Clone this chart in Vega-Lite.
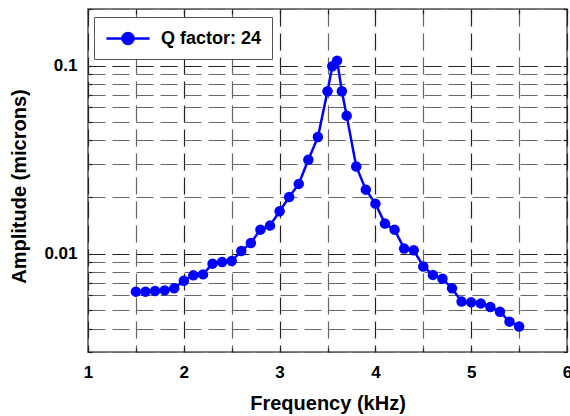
{
  "$schema": "https://vega.github.io/schema/vega-lite/v6.json",
  "width": 479,
  "height": 343,
  "autosize": "none",
  "padding": {"left": 88, "top": 9, "right": 3, "bottom": 64},
  "background": "white",
  "config": {
    "font": "Liberation Sans",
    "view": {"stroke": "#555", "strokeWidth": 1.5},
    "axis": {
      "domain": false,
      "labelFont": "Liberation Sans",
      "labelFontWeight": "bold",
      "labelFontSize": 17,
      "labelColor": "black",
      "titleFont": "Liberation Sans",
      "titleFontWeight": "bold",
      "titleFontSize": 20,
      "titleColor": "black",
      "gridDash": [17, 7],
      "gridWidth": 1.2,
      "tickColor": "#222",
      "tickWidth": 1.2
    }
  },
  "data": {
    "values": [
      {"freq": 1.5, "amp": 0.00628, "series": "Q factor: 24"},
      {"freq": 1.6, "amp": 0.00628, "series": "Q factor: 24"},
      {"freq": 1.7, "amp": 0.00633, "series": "Q factor: 24"},
      {"freq": 1.8, "amp": 0.00638, "series": "Q factor: 24"},
      {"freq": 1.9, "amp": 0.00654, "series": "Q factor: 24"},
      {"freq": 2.0, "amp": 0.00718, "series": "Q factor: 24"},
      {"freq": 2.1, "amp": 0.00767, "series": "Q factor: 24"},
      {"freq": 2.2, "amp": 0.00776, "series": "Q factor: 24"},
      {"freq": 2.3, "amp": 0.00885, "series": "Q factor: 24"},
      {"freq": 2.4, "amp": 0.00903, "series": "Q factor: 24"},
      {"freq": 2.5, "amp": 0.00914, "series": "Q factor: 24"},
      {"freq": 2.6, "amp": 0.01033, "series": "Q factor: 24"},
      {"freq": 2.7, "amp": 0.0114, "series": "Q factor: 24"},
      {"freq": 2.8, "amp": 0.01342, "series": "Q factor: 24"},
      {"freq": 2.9, "amp": 0.0141, "series": "Q factor: 24"},
      {"freq": 3.0, "amp": 0.0168, "series": "Q factor: 24"},
      {"freq": 3.1, "amp": 0.0200, "series": "Q factor: 24"},
      {"freq": 3.2, "amp": 0.0235, "series": "Q factor: 24"},
      {"freq": 3.3, "amp": 0.0316, "series": "Q factor: 24"},
      {"freq": 3.4, "amp": 0.0417, "series": "Q factor: 24"},
      {"freq": 3.5, "amp": 0.0730, "series": "Q factor: 24"},
      {"freq": 3.55, "amp": 0.0992, "series": "Q factor: 24"},
      {"freq": 3.6, "amp": 0.1063, "series": "Q factor: 24"},
      {"freq": 3.65, "amp": 0.0730, "series": "Q factor: 24"},
      {"freq": 3.7, "amp": 0.0542, "series": "Q factor: 24"},
      {"freq": 3.8, "amp": 0.0291, "series": "Q factor: 24"},
      {"freq": 3.9, "amp": 0.0219, "series": "Q factor: 24"},
      {"freq": 4.0, "amp": 0.01845, "series": "Q factor: 24"},
      {"freq": 4.1, "amp": 0.01445, "series": "Q factor: 24"},
      {"freq": 4.2, "amp": 0.01342, "series": "Q factor: 24"},
      {"freq": 4.3, "amp": 0.01064, "series": "Q factor: 24"},
      {"freq": 4.4, "amp": 0.01042, "series": "Q factor: 24"},
      {"freq": 4.5, "amp": 0.00855, "series": "Q factor: 24"},
      {"freq": 4.6, "amp": 0.00771, "series": "Q factor: 24"},
      {"freq": 4.7, "amp": 0.00736, "series": "Q factor: 24"},
      {"freq": 4.8, "amp": 0.00654, "series": "Q factor: 24"},
      {"freq": 4.9, "amp": 0.00556, "series": "Q factor: 24"},
      {"freq": 5.0, "amp": 0.00551, "series": "Q factor: 24"},
      {"freq": 5.1, "amp": 0.00544, "series": "Q factor: 24"},
      {"freq": 5.2, "amp": 0.0052, "series": "Q factor: 24"},
      {"freq": 5.3, "amp": 0.00491, "series": "Q factor: 24"},
      {"freq": 5.4, "amp": 0.00435, "series": "Q factor: 24"},
      {"freq": 5.5, "amp": 0.0041, "series": "Q factor: 24"}
    ]
  },
  "layer": [
    {
      "mark": {"type": "line", "strokeWidth": 2.5},
      "encoding": {
        "x": {
          "field": "freq",
          "type": "quantitative",
          "scale": {"domain": [1, 6], "nice": false, "zero": false},
          "axis": {
            "orient": "bottom",
            "title": "Frequency (kHz)",
            "values": [1, 1.5, 2, 2.5, 3, 3.5, 4, 4.5, 5, 5.5, 6],
            "labelExpr": "datum.value % 1 === 0 ? format(datum.value, 'd') : ''",
            "grid": true,
            "gridColor": {"condition": {"test": "datum.value % 1 === 0", "value": "#222"}, "value": "#666"},
            "ticks": true,
            "tickSize": -4,
            "labelPadding": 29,
            "labelBaseline": "alphabetic",
            "labelFlush": false,
            "titleBaseline": "alphabetic",
            "titleY": 57
          }
        },
        "y": {
          "field": "amp",
          "type": "quantitative",
          "scale": {"type": "log", "domain": [0.003, 0.2], "nice": false},
          "axis": {
            "orient": "left",
            "title": "Amplitude (microns)",
            "values": [0.003, 0.004, 0.005, 0.006, 0.007, 0.008, 0.009, 0.01, 0.02, 0.03, 0.04, 0.05, 0.06, 0.07, 0.08, 0.09, 0.1, 0.2],
            "labelExpr": "datum.value == 0.01 ? '0.01' : (datum.value == 0.1 ? '0.1' : '')",
            "grid": true,
            "gridColor": {"condition": {"test": "datum.value == 0.01 || datum.value == 0.1", "value": "#222"}, "value": "#666"},
            "ticks": true,
            "tickSize": -4,
            "labelPadding": 15,
            "labelFlush": false,
            "titleBaseline": "alphabetic",
            "titleX": -63,
            "titleY": 177
          }
        },
        "color": {
          "field": "series",
          "type": "nominal",
          "scale": {"range": ["#0000ff"]},
          "legend": {
            "title": null,
            "orient": "none",
            "legendX": 6,
            "legendY": 8,
            "padding": 10,
            "strokeColor": "#555",
            "fillColor": "white",
            "cornerRadius": 0,
            "symbolType": "M-0.9,0L3.4,0M0.7,0A0.55,0.55,0,1,0,1.8,0A0.55,0.55,0,1,0,0.7,0Z",
            "symbolSize": 400,
            "symbolStrokeWidth": 2.5,
            "symbolFillColor": "#0000ff",
            "symbolStrokeColor": "#0000ff",
            "labelOffset": 34,
            "labelFont": "Liberation Sans",
            "labelFontWeight": "bold",
            "labelFontSize": 18,
            "labelColor": "black",
            "labelLimit": 300
          }
        }
      }
    },
    {
      "mark": {"type": "point", "filled": true, "size": 110, "opacity": 1, "color": "#0000ff"},
      "encoding": {
        "x": {
          "field": "freq",
          "type": "quantitative",
          "axis": {
            "orient": "top",
            "title": null,
            "values": [1, 1.5, 2, 2.5, 3, 3.5, 4, 4.5, 5, 5.5, 6],
            "labels": false,
            "grid": false,
            "ticks": true,
            "tickSize": -5
          }
        },
        "y": {
          "field": "amp",
          "type": "quantitative",
          "axis": {
            "orient": "right",
            "title": null,
            "values": [0.003, 0.004, 0.005, 0.006, 0.007, 0.008, 0.009, 0.01, 0.02, 0.03, 0.04, 0.05, 0.06, 0.07, 0.08, 0.09, 0.1, 0.2],
            "labels": false,
            "grid": false,
            "ticks": true,
            "tickSize": -4
          }
        }
      }
    }
  ],
  "resolve": {"axis": {"x": "independent", "y": "independent"}}
}
